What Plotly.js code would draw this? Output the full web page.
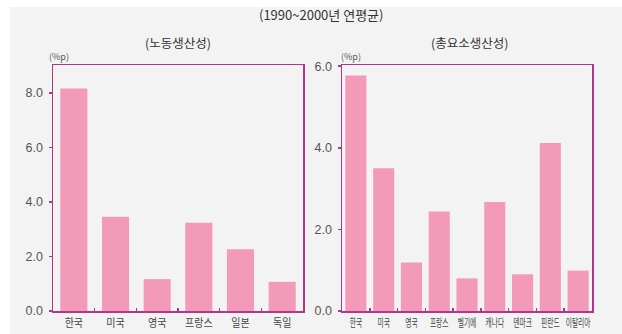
<!DOCTYPE html>
<html><head><meta charset="utf-8">
<script src="https://cdn.plot.ly/plotly-3.0.1.min.js"></script>
<style>
html,body{margin:0;padding:0;background:#ffffff;}
#bg{position:absolute;left:10px;top:7px;width:612px;height:327px;background:#f3f3f3;}
#chart{position:absolute;left:0;top:0;width:622px;height:334px;}
</style></head>
<body>
<div id="bg"></div>
<div id="chart"></div>
<script>
const laborCountries = ['한국','미국','영국','프랑스','일본','독일'];
const laborValues = [8.17, 3.46, 1.17, 3.24, 2.27, 1.07];
const tfpCountries = ['한국','미국','영국','프랑스','벨기에','캐나다','덴마크','핀란드','이탈리아'];
const tfpValues = [5.77, 3.50, 1.19, 2.44, 0.80, 2.67, 0.90, 4.12, 0.99];
const laborTicks = [0, 2, 4, 6, 8];
const laborTickText = ['0.0','2.0','4.0','6.0','8.0'];
const tfpTicks = [0, 2, 4, 6];
const tfpTickText = ['0.0','2.0','4.0','6.0'];

const W = 622, H = 334;
const frame = '#b2378c';
const barColor = '#f39ab9';
const font = '"Noto Sans CJK KR", "Noto Sans", sans-serif';
const numFont = '"Liberation Sans", Arial, sans-serif';

const traces = [
  {type:'bar', x: laborCountries, y: laborValues, xaxis:'x', yaxis:'y', width:0.65, marker:{color: barColor}, hoverinfo:'skip'},
  {type:'bar', x: tfpCountries, y: tfpValues, xaxis:'x2', yaxis:'y2', width:0.76, marker:{color: barColor}, hoverinfo:'skip'}
];

const yDom = [(H-311)/H, (H-65)/H];
const xAxisCommon = {
  showline:true, linecolor: frame, linewidth:1.5, mirror:true,
  ticks:'inside', tickson:'boundaries', ticklen:3, tickcolor: frame, tickwidth:1.5,
  showgrid:false, zeroline:false, fixedrange:true, automargin:false, tickangle:0,
  ticklabelstandoff:1
};
const yAxisCommon = {
  showline:true, linecolor: frame, linewidth:1.5, mirror:true,
  ticks:'outside', ticklen:3, tickcolor: frame, tickwidth:1.5,
  showgrid:false, zeroline:false, fixedrange:true, automargin:false,
  tickmode:'array', tickfont:{family: numFont, size:12.5, color:'#555'}, domain: yDom,
  ticklabelstandoff:3
};

const layout = {
  width: W, height: H,
  margin:{l:0, r:0, t:0, b:0},
  paper_bgcolor:'rgba(0,0,0,0)', plot_bgcolor:'#f3f3f3',
  showlegend:false,
  font:{family: font},
  xaxis: Object.assign({}, xAxisCommon, {domain:[53/W, 303/W], anchor:'y', tickfont:{family: font, size:11, color:'#444'}}),
  yaxis: Object.assign({}, yAxisCommon, {range:[0, 9.03], tickvals: laborTicks, ticktext: laborTickText, anchor:'x'}),
  xaxis2: Object.assign({}, xAxisCommon, {domain:[342/W, 592/W], anchor:'y2', tickfont:{family: font, size:11, color:'#444'}}),
  yaxis2: Object.assign({}, yAxisCommon, {range:[0, 6.03], tickvals: tfpTicks, ticktext: tfpTickText, anchor:'x2'}),
  annotations: [
    {text:'(1990~2000년 연평균)', xref:'paper', yref:'paper', x:321/W, y:1-15/H, showarrow:false, xanchor:'center', yanchor:'middle', font:{family:font, size:13, color:'#333'}},
    {text:'(노동생산성)', xref:'paper', yref:'paper', x:178/W, y:1-42/H, showarrow:false, xanchor:'center', yanchor:'middle', font:{family:font, size:12.5, color:'#333'}},
    {text:'(총요소생산성)', xref:'paper', yref:'paper', x:469/W, y:1-42/H, showarrow:false, xanchor:'center', yanchor:'middle', font:{family:font, size:12.5, color:'#333'}},
    {text:'(%p)', xref:'paper', yref:'paper', x:47/W, y:1-57/H, showarrow:false, xanchor:'left', yanchor:'middle', font:{family:font, size:9, color:'#555'}},
    {text:'(%p)', xref:'paper', yref:'paper', x:339/W, y:1-57/H, showarrow:false, xanchor:'left', yanchor:'middle', font:{family:font, size:9, color:'#555'}}
  ]
};

Plotly.newPlot('chart', traces, layout, {displayModeBar:false, staticPlot:true}).then(function(){
  function squeeze(sel, perChar){
    document.querySelectorAll(sel).forEach(function(t){
      const n = (t.textContent || '').length;
      if (n > 0) {
        t.setAttribute('textLength', String(n * perChar));
        t.setAttribute('lengthAdjust', 'spacingAndGlyphs');
      }
    });
  }
  squeeze('.xtick text', 9.2);
  squeeze('.x2tick text', 6.2);
});
</script>
</body></html>
